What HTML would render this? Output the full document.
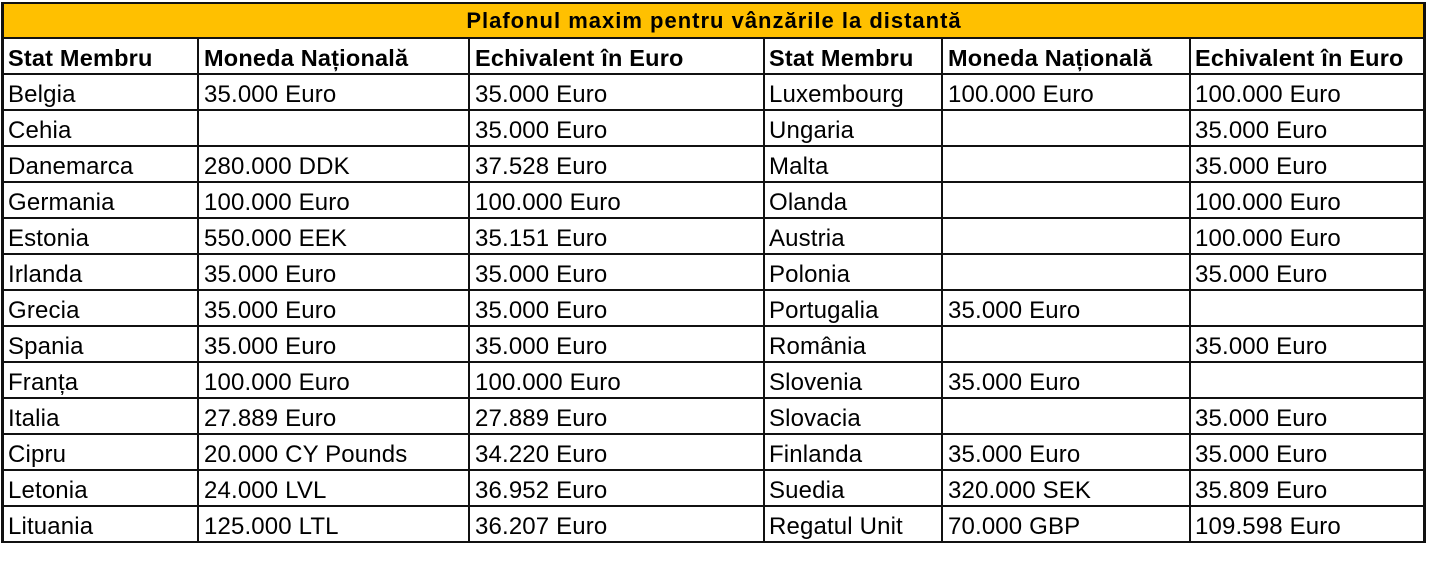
<!DOCTYPE html>
<html><head><meta charset="utf-8">
<style>
html,body{margin:0;padding:0;background:#fff;}
body{width:1429px;height:578px;position:relative;overflow:hidden;font-family:"Liberation Sans",Arial,sans-serif;color:#000;}
.h{position:absolute;left:2px;width:1424px;height:2px;background:#111;}
.v{position:absolute;top:2px;height:541px;width:2px;background:#111;}
.t{position:absolute;height:34px;line-height:34px;font-size:24px;letter-spacing:0.15px;white-space:nowrap;margin-top:2px;}
.b{font-weight:bold;font-size:23.5px;letter-spacing:0.2px;margin-top:1px;}
</style></head><body>
<div style="position:absolute;left:3px;top:3px;width:1422px;height:35px;background:#FFC000;"></div>
<div style="position:absolute;left:3px;top:4px;width:1422px;height:33px;line-height:33px;text-align:center;font-weight:bold;font-size:22px;letter-spacing:1px;">Plafonul maxim pentru vânzările la distantă</div>

<div class="h" style="top:2px;"></div>
<div class="h" style="top:37px;"></div>
<div class="h" style="top:73px;"></div>
<div class="h" style="top:109px;"></div>
<div class="h" style="top:145px;"></div>
<div class="h" style="top:181px;"></div>
<div class="h" style="top:217px;"></div>
<div class="h" style="top:253px;"></div>
<div class="h" style="top:289px;"></div>
<div class="h" style="top:325px;"></div>
<div class="h" style="top:361px;"></div>
<div class="h" style="top:397px;"></div>
<div class="h" style="top:433px;"></div>
<div class="h" style="top:469px;"></div>
<div class="h" style="top:505px;"></div>
<div class="h" style="top:541px;"></div>

<div class="v" style="left:1px;width:3px;"></div>
<div class="v" style="left:1423px;width:3px;"></div>
<div class="v" style="left:197px;top:38px;height:505px;"></div>
<div class="v" style="left:468px;top:38px;height:505px;"></div>
<div class="v" style="left:763px;top:38px;height:505px;"></div>
<div class="v" style="left:941px;top:38px;height:505px;"></div>
<div class="v" style="left:1189px;top:38px;height:505px;"></div>

<!-- header row -->
<div class="t b" style="top:40px;left:8px;">Stat Membru</div>
<div class="t b" style="top:40px;left:204px;">Moneda Națională</div>
<div class="t b" style="top:40px;left:475px;">Echivalent în Euro</div>
<div class="t b" style="top:40px;left:769px;">Stat Membru</div>
<div class="t b" style="top:40px;left:948px;">Moneda Națională</div>
<div class="t b" style="top:40px;left:1195px;">Echivalent în Euro</div>

<!-- rows -->
<div class="t" style="top:76px;left:8px;">Belgia</div>
<div class="t" style="top:76px;left:204px;">35.000 Euro</div>
<div class="t" style="top:76px;left:475px;">35.000 Euro</div>
<div class="t" style="top:76px;left:769px;">Luxembourg</div>
<div class="t" style="top:76px;left:948px;">100.000 Euro</div>
<div class="t" style="top:76px;left:1195px;">100.000 Euro</div>

<div class="t" style="top:112px;left:8px;">Cehia</div>
<div class="t" style="top:112px;left:475px;">35.000 Euro</div>
<div class="t" style="top:112px;left:769px;">Ungaria</div>
<div class="t" style="top:112px;left:1195px;">35.000 Euro</div>

<div class="t" style="top:148px;left:8px;">Danemarca</div>
<div class="t" style="top:148px;left:204px;">280.000 DDK</div>
<div class="t" style="top:148px;left:475px;">37.528 Euro</div>
<div class="t" style="top:148px;left:769px;">Malta</div>
<div class="t" style="top:148px;left:1195px;">35.000 Euro</div>

<div class="t" style="top:184px;left:8px;">Germania</div>
<div class="t" style="top:184px;left:204px;">100.000 Euro</div>
<div class="t" style="top:184px;left:475px;">100.000 Euro</div>
<div class="t" style="top:184px;left:769px;">Olanda</div>
<div class="t" style="top:184px;left:1195px;">100.000 Euro</div>

<div class="t" style="top:220px;left:8px;">Estonia</div>
<div class="t" style="top:220px;left:204px;">550.000 EEK</div>
<div class="t" style="top:220px;left:475px;">35.151 Euro</div>
<div class="t" style="top:220px;left:769px;">Austria</div>
<div class="t" style="top:220px;left:1195px;">100.000 Euro</div>

<div class="t" style="top:256px;left:8px;">Irlanda</div>
<div class="t" style="top:256px;left:204px;">35.000 Euro</div>
<div class="t" style="top:256px;left:475px;">35.000 Euro</div>
<div class="t" style="top:256px;left:769px;">Polonia</div>
<div class="t" style="top:256px;left:1195px;">35.000 Euro</div>

<div class="t" style="top:292px;left:8px;">Grecia</div>
<div class="t" style="top:292px;left:204px;">35.000 Euro</div>
<div class="t" style="top:292px;left:475px;">35.000 Euro</div>
<div class="t" style="top:292px;left:769px;">Portugalia</div>
<div class="t" style="top:292px;left:948px;">35.000 Euro</div>

<div class="t" style="top:328px;left:8px;">Spania</div>
<div class="t" style="top:328px;left:204px;">35.000 Euro</div>
<div class="t" style="top:328px;left:475px;">35.000 Euro</div>
<div class="t" style="top:328px;left:769px;">România</div>
<div class="t" style="top:328px;left:1195px;">35.000 Euro</div>

<div class="t" style="top:364px;left:8px;">Franța</div>
<div class="t" style="top:364px;left:204px;">100.000 Euro</div>
<div class="t" style="top:364px;left:475px;">100.000 Euro</div>
<div class="t" style="top:364px;left:769px;">Slovenia</div>
<div class="t" style="top:364px;left:948px;">35.000 Euro</div>

<div class="t" style="top:400px;left:8px;">Italia</div>
<div class="t" style="top:400px;left:204px;">27.889 Euro</div>
<div class="t" style="top:400px;left:475px;">27.889 Euro</div>
<div class="t" style="top:400px;left:769px;">Slovacia</div>
<div class="t" style="top:400px;left:1195px;">35.000 Euro</div>

<div class="t" style="top:436px;left:8px;">Cipru</div>
<div class="t" style="top:436px;left:204px;">20.000 CY Pounds</div>
<div class="t" style="top:436px;left:475px;">34.220 Euro</div>
<div class="t" style="top:436px;left:769px;">Finlanda</div>
<div class="t" style="top:436px;left:948px;">35.000 Euro</div>
<div class="t" style="top:436px;left:1195px;">35.000 Euro</div>

<div class="t" style="top:472px;left:8px;">Letonia</div>
<div class="t" style="top:472px;left:204px;">24.000 LVL</div>
<div class="t" style="top:472px;left:475px;">36.952 Euro</div>
<div class="t" style="top:472px;left:769px;">Suedia</div>
<div class="t" style="top:472px;left:948px;">320.000 SEK</div>
<div class="t" style="top:472px;left:1195px;">35.809 Euro</div>

<div class="t" style="top:508px;left:8px;">Lituania</div>
<div class="t" style="top:508px;left:204px;">125.000 LTL</div>
<div class="t" style="top:508px;left:475px;">36.207 Euro</div>
<div class="t" style="top:508px;left:769px;">Regatul Unit</div>
<div class="t" style="top:508px;left:948px;">70.000 GBP</div>
<div class="t" style="top:508px;left:1195px;">109.598 Euro</div>
</body></html>
